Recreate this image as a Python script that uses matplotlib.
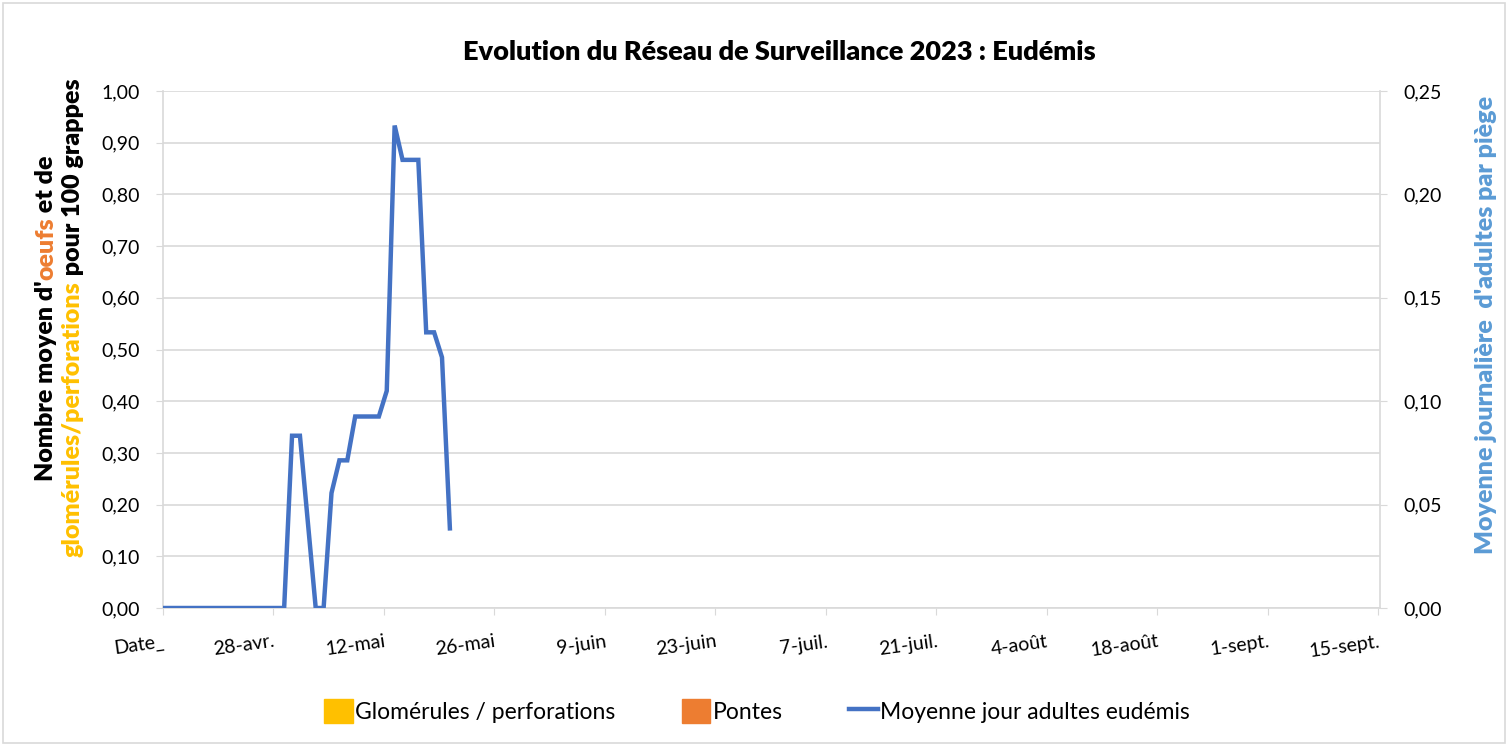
import pandas as pd
import matplotlib
matplotlib.use("Agg")
import matplotlib.pyplot as plt
from matplotlib.patches import Rectangle, Patch
from matplotlib.lines import Line2D

plt.rcParams['font.family'] = ['Lato', 'DejaVu Sans']

# axis start (first category shown as "Date_")
start = pd.Timestamp("2023-04-14")
tick_labels = ["Date_", "28-avr.", "12-mai", "26-mai", "9-juin", "23-juin",
               "7-juil.", "21-juil.", "4-août", "18-août", "1-sept.", "15-sept."]

# moyenne jour adultes eudémis (right axis)
adult_dates = ["2023-04-14", "2023-04-29", "2023-04-30", "2023-05-01", "2023-05-03",
               "2023-05-04", "2023-05-05", "2023-05-06", "2023-05-07", "2023-05-08",
               "2023-05-11", "2023-05-12", "2023-05-13", "2023-05-14", "2023-05-16",
               "2023-05-17", "2023-05-18", "2023-05-19", "2023-05-20"]
adult_vals = [0.0, 0.0, 0.0833, 0.0833, 0.0, 0.0, 0.0556, 0.0714, 0.0714, 0.0926,
              0.0926, 0.1050, 0.2333, 0.2167, 0.2167, 0.1333, 0.1333, 0.1212, 0.0385]

# bars (nothing recorded yet)
glom_vals = [0.0] * len(adult_dates)
pontes_vals = [0.0] * len(adult_dates)

days = [(pd.Timestamp(d) - start).days for d in adult_dates]
days = [d + 0.35 if d > 0 else d for d in days]  # excel category offset

W, H = 1510, 745
fig = plt.figure(figsize=(W / 100, H / 100), dpi=100)
ax = fig.add_axes([163 / W, 1 - 608 / H, (1380 - 163) / W, (608 - 91) / H])
ax2 = ax.twinx()

grid_c = "#D9D9D9"
ax.bar(days, glom_vals, width=0.8, color="#FFC000")
ax.bar(days, pontes_vals, width=0.8, color="#ED7D31")
ax2.plot(days, adult_vals, color="#4472C4", lw=3.2, solid_joinstyle="miter")

ax.set_xlim(0, 154.2)
ax.set_ylim(0, 1)
ax2.set_ylim(0, 0.25)
lt = [i / 10 for i in range(11)]
ax.set_yticks(lt)
ax.set_yticklabels([f"{v:.2f}".replace(".", ",") for v in lt], fontsize=14)
rt = [i * 0.05 for i in range(6)]
ax2.set_yticks(rt)
ax2.set_yticklabels([f"{v:.2f}".replace(".", ",") for v in rt], fontsize=14)
ax.set_xticks([14 * i for i in range(len(tick_labels))])
ax.set_xticklabels(tick_labels, fontsize=14, rotation=8, ha="right",
                   rotation_mode="anchor")
ax.tick_params(axis="x", length=5, color=grid_c, pad=13)
ax.tick_params(axis="y", length=5, color=grid_c, pad=12)
ax2.tick_params(axis="y", length=5, color=grid_c, pad=12)
ax.grid(axis="y", color=grid_c, lw=1.2)
ax.set_axisbelow(True)
for a in (ax, ax2):
    a.spines["top"].set_visible(False)
    for s in ("left", "right", "bottom"):
        a.spines[s].set_color(grid_c)
        a.spines[s].set_linewidth(1.2)
ax.spines["right"].set_visible(False)
ax2.spines["left"].set_visible(False)
ax2.spines["bottom"].set_visible(False)

fig.text(779 / W, 1 - 52 / H, "Evolution du Réseau de Surveillance 2023 : Eudémis",
         ha="center", va="center", fontsize=19.5, fontweight="heavy")

renderer = fig.canvas.get_renderer()
lab_kw = dict(fontsize=18, fontweight="heavy")


def text_w(s):
    t = fig.text(0, 0, s + "|", **lab_kw)
    a = t.get_window_extent(renderer).width
    t.remove()
    t = fig.text(0, 0, "|", **lab_kw)
    b = t.get_window_extent(renderer).width
    t.remove()
    return a - b


def vertical_pieces(x_px, yc_px, pieces):
    full = "".join(p for p, _ in pieces)
    y0 = yc_px - text_w(full) / 2
    prefix = ""
    for s, c in pieces:
        off = text_w(prefix) if prefix else 0
        fig.text(x_px / W, (y0 + off) / H, s, color=c, rotation=90,
                 rotation_mode="anchor", ha="left", va="baseline", **lab_kw)
        prefix += s


vertical_pieces(53, H - 318, [("Nombre moyen d'", "black"), ("oeufs", "#ED7D31"),
                              (" et de", "black")])
vertical_pieces(80, H - 318, [("glomérules/perforations", "#FFC000"),
                              (" pour 100 grappes", "black")])
fig.text(1486 / W, 1 - 325 / H, "Moyenne journalière  d'adultes par piège",
         rotation=90, ha="center", va="center", color="#5B9BD5", **lab_kw)

handles = [Patch(color="#FFC000"), Patch(color="#ED7D31"),
           Line2D([], [], color="#4472C4", lw=3.2)]
labels = ["Glomérules / perforations", "Pontes", "Moyenne jour adultes eudémis"]
fig.legend(handles, labels, loc="center", bbox_to_anchor=(757 / W, 1 - 711 / H),
           ncol=3, frameon=False, fontsize=16.5, handlelength=1.25, handleheight=1.25,
           handletextpad=0.1, columnspacing=2.9)

fig.patches.append(Rectangle((3 / W, 2 / H), (W - 8) / W, (H - 5) / H,
                             transform=fig.transFigure, fill=False,
                             edgecolor="#D9D9D9", lw=1.2))

fig.savefig("out.png", dpi=100)
